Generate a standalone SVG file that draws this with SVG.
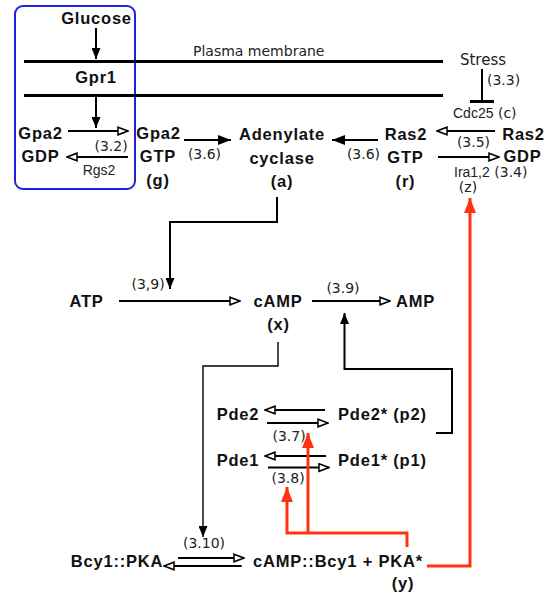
<svg xmlns="http://www.w3.org/2000/svg" width="547" height="597" viewBox="0 0 547 597">
<defs>
<style>
.b{font-family:"Liberation Sans",Arial,sans-serif;font-weight:bold;font-size:16.5px;letter-spacing:0.8px;fill:#111;text-anchor:middle}
.st{text-anchor:start}
.n{font-family:"DejaVu Sans",sans-serif;font-size:14px;fill:#222}
.s{font-family:"Liberation Sans",Arial,sans-serif;font-size:14px;fill:#222}
.m{text-anchor:middle}
.ln{fill:none;stroke:#000;stroke-width:2}
.thin{fill:none;stroke:#000;stroke-width:1.4}
.red{fill:none;stroke:#ff3311;stroke-width:3}
.mem{fill:none;stroke:#000;stroke-width:3}
.f{marker-end:url(#fa)}
.fb{marker-end:url(#fb)}
.o{marker-end:url(#oa)}
.r{marker-end:url(#ra)}
</style>
<marker id="fa" markerUnits="userSpaceOnUse" viewBox="0 0 11 9" refX="11" refY="4.5" markerWidth="11" markerHeight="9" orient="auto"><path d="M0,0 L11,4.5 L0,9 z" fill="#000"/></marker>
<marker id="fb" markerUnits="userSpaceOnUse" viewBox="0 0 13 10" refX="13" refY="5" markerWidth="13" markerHeight="10" orient="auto"><path d="M0,0 L13,5 L0,10 z" fill="#000"/></marker>
<marker id="oa" markerUnits="userSpaceOnUse" viewBox="0 0 12 10" refX="11" refY="5" markerWidth="12" markerHeight="10" orient="auto"><path d="M1,1.2 L11,5 L1,8.8 z" fill="#fff" stroke="#000" stroke-width="1.5"/></marker>
<marker id="ra" markerUnits="userSpaceOnUse" viewBox="0 0 15 12" refX="15" refY="6" markerWidth="15" markerHeight="12" orient="auto"><path d="M0,0 L15,6 L0,12 z" fill="#ff3311"/></marker>
</defs>
<rect width="547" height="597" fill="#fff"/>

<g id="glucose-box">
<rect x="15" y="6" width="120" height="183" rx="8" ry="8" fill="none" stroke="#2020e0" stroke-width="2"/>
</g>

<g id="membrane">
<line class="mem" x1="24" y1="61.5" x2="443" y2="61.5"/>
<line class="mem" x1="24" y1="95.5" x2="443" y2="95.5"/>
<text class="n" x="193" y="56">Plasma membrane</text>
</g>

<g id="connectors">
<path class="ln f" d="M96,28 V59"/>
<path class="ln f" d="M96,97 V128"/>
<path class="ln o" d="M68,131 H128"/>
<path class="ln o" d="M128,157 H67"/>
<path class="ln fb" d="M184,140 H231"/>
<path class="ln fb" d="M378,140 H332"/>
<path class="ln o" d="M495,131 H437"/>
<path class="ln o" d="M438,157 H499"/>
<path class="ln" d="M482,69 V101.5"/>
<path class="mem" d="M470,101.5 H494"/>
<path class="ln f" d="M277,197 V222 H170 V289"/>
<path class="ln o" d="M119,301 H240"/>
<path class="ln o" d="M312,301 H390"/>
<path class="ln f" d="M436,433 H452 V369 H344.5 V313"/>
<path class="thin f" d="M278,342 V366 H203 V537"/>
<path class="ln o" d="M325,410 H265"/>
<path class="ln o" d="M267,423 H328"/>
<path class="ln o" d="M326,456 H265"/>
<path class="ln o" d="M268,467.5 H329"/>
<path class="ln o" d="M178,558 H244"/>
<path class="ln o" d="M241.7,566 H164"/>
<path class="red r" d="M407,547 V533 H287 V487"/>
<path class="red r" d="M308,533 V433"/>
<path class="red r" d="M427,566 H470 V198"/>
</g>

<g id="edge-labels">
<text class="n" x="94.5" y="151">(3.2)</text>
<text class="s m" x="99" y="175">Rgs2</text>
<text class="n m" x="204.5" y="159">(3.6)</text>
<text class="n m" x="363.5" y="159">(3.6)</text>
<text class="n m" x="473.5" y="147">(3.5)</text>
<text x="454" y="177"><tspan class="s">Ira1,2</tspan><tspan class="n"> (3.4)</tspan></text>
<text class="n m" x="468" y="192">(z)</text>
<text class="n" x="487" y="85">(3.3)</text>
<text x="453" y="118"><tspan class="s">Cdc25</tspan><tspan class="n"> (c)</tspan></text>
<text class="n" x="131.5" y="289">(3,9)</text>
<text class="n m" x="343" y="293">(3.9)</text>
<text class="n" x="272.5" y="441">(3.7)</text>
<text class="n" x="271.5" y="483">(3.8)</text>
<text class="n m" x="204" y="548">(3.10)</text>
</g>

<g id="node-glucose"><text class="b" x="96.5" y="24">Glucose</text></g>
<g id="node-gpr1"><text class="b" x="96" y="83">Gpr1</text></g>
<g id="node-gpa2-gdp"><text class="b" x="40.5" y="138.5">Gpa2</text><text class="b" x="40.5" y="162">GDP</text></g>
<g id="node-gpa2-gtp"><text class="b" x="158.5" y="138.5">Gpa2</text><text class="b" x="158" y="162">GTP</text><text class="b" x="158" y="186">(g)</text></g>
<g id="node-adenylate-cyclase"><text class="b" x="282" y="140">Adenylate</text><text class="b" x="282" y="164">cyclase</text><text class="b" x="282" y="187">(a)</text></g>
<g id="node-ras2-gtp"><text class="b" x="406" y="139.5">Ras2</text><text class="b" x="405.5" y="162.5">GTP</text><text class="b" x="405.5" y="186.5">(r)</text></g>
<g id="node-ras2-gdp"><text class="b" x="523.5" y="139.5">Ras2</text><text class="b" x="522.5" y="162">GDP</text></g>
<g id="node-stress"><text x="483" y="65" style="font-family:'DejaVu Sans',sans-serif;font-size:15px;fill:#222;text-anchor:middle">Stress</text></g>
<g id="node-atp"><text class="b" x="86.5" y="307">ATP</text></g>
<g id="node-camp"><text class="b" x="278" y="307">cAMP</text><text class="b" x="278.5" y="330">(x)</text></g>
<g id="node-amp"><text class="b" x="415.5" y="307">AMP</text></g>
<g id="node-pde2"><text class="b" x="238" y="420">Pde2</text></g>
<g id="node-pde2-active"><text class="b st" x="338" y="420">Pde2* (p2)</text></g>
<g id="node-pde1"><text class="b" x="238" y="466">Pde1</text></g>
<g id="node-pde1-active"><text class="b st" x="338" y="466">Pde1* (p1)</text></g>
<g id="node-bcy1-pka"><text class="b" x="117" y="567">Bcy1::PKA</text></g>
<g id="node-camp-bcy1-pka"><text class="b st" x="253" y="567">cAMP::Bcy1 + PKA*</text><text class="b" x="403" y="589">(y)</text></g>
</svg>
